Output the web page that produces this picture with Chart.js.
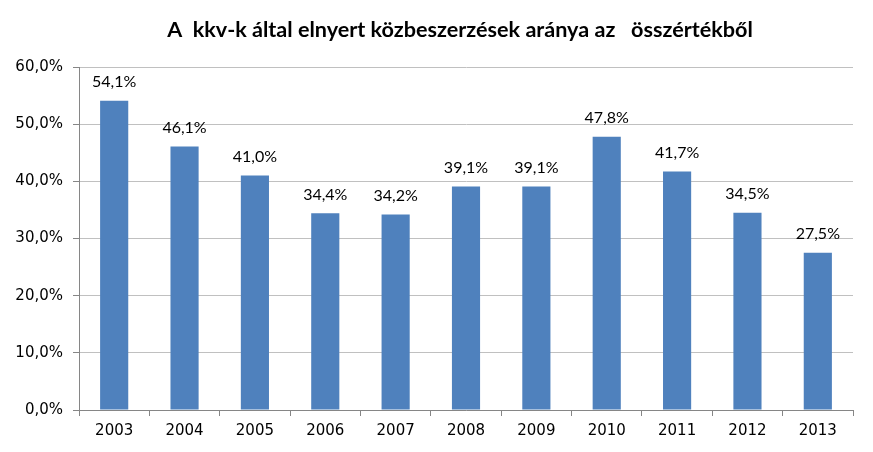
<!DOCTYPE html>
<html lang="hu">
<head>
    <meta charset="UTF-8">
    <title>A kkv-k által elnyert közbeszerzések aránya</title>
    <script src="https://cdn.jsdelivr.net/npm/chart.js"></script>
    <style>
        html, body { margin: 0; padding: 0; background: #fff; }
        #wrap { width: 873px; height: 452px; position: relative; }
    </style>
</head>
<body>
<div id="wrap"><canvas id="chart"></canvas></div>
<script>
    // adatok
    const evek = ["2003", "2004", "2005", "2006", "2007", "2008", "2009", "2010", "2011", "2012", "2013"];
    const aranyok = [54.1, 46.1, 41.0, 34.4, 34.2, 39.1, 39.1, 47.8, 41.7, 34.5, 27.5];
    const cim = "A  kkv-k által elnyert közbeszerzések aránya az   összértékből";

    const szazalek = v => v.toFixed(1).replace(".", ",") + "%";

    // cím + értékcímkék az oszlopok fölött
    const cimkek = {
        id: "cimkek",
        afterDatasetsDraw(chart) {
            const ctx = chart.ctx;
            const meta = chart.getDatasetMeta(0);
            ctx.save();
            ctx.fillStyle = "#000";
            ctx.textAlign = "center";
            ctx.textBaseline = "middle";
            ctx.font = "bold 21.6px Lato";
            ctx.fillText(cim, 460, 30);
            ctx.font = "16px Lato";
            meta.data.forEach((bar, i) => {
                ctx.fillText(szazalek(aranyok[i]), bar.x, bar.y - 19);
            });
            ctx.restore();
        }
    };

    new Chart(document.getElementById("chart"), {
        type: "bar",
        data: {
            labels: evek,
            datasets: [{
                data: aranyok,
                backgroundColor: "#4F81BD",
                barPercentage: 0.4,
                categoryPercentage: 1.0
            }]
        },
        options: {
            responsive: true,
            maintainAspectRatio: false,
            animation: false,
            layout: { padding: { left: 0, right: 20, top: 67, bottom: 0 } },
            plugins: {
                legend: { display: false },
                tooltip: { enabled: false },
                title: { display: false }
            },
            scales: {
                x: {
                    grid: { drawOnChartArea: false, offset: true, tickLength: 6, color: "#868686" },
                    border: { color: "#868686" },
                    ticks: { color: "#000", font: { family: "DejaVu Sans", size: 15 }, padding: 6 },
                    afterFit: s => { s.height = 42; }
                },
                y: {
                    min: 0,
                    max: 60,
                    ticks: {
                        stepSize: 10,
                        color: "#000",
                        font: { family: "DejaVu Sans", size: 15 },
                        padding: 10,
                        callback: v => szazalek(v)
                    },
                    grid: { color: "#C0C0C0", tickColor: "#868686", tickLength: 6 },
                    border: { color: "#868686" },
                    afterFit: s => { s.width = 79; }
                }
            }
        },
        plugins: [cimkek]
    });
</script>
</body>
</html>
